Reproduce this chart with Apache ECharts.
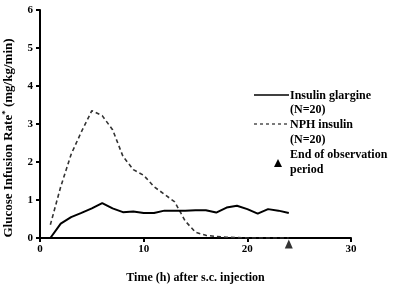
<!DOCTYPE html>
<html>
<head>
<meta charset="utf-8">
<script src="https://cdn.jsdelivr.net/npm/echarts@6/dist/echarts.min.js"></script>
<style>
  html, body { margin: 0; padding: 0; background: #fff; }
  #chart { width: 400px; height: 288px; }
</style>
</head>
<body>
<div id="chart"></div>
<script>
// hours after injection
var hours = [1, 2, 3, 4, 5, 6, 7, 8, 9, 10, 11, 12, 13, 14, 15, 16, 17, 18, 19, 20, 21, 22, 23, 24];
// glucose infusion rate, mg/kg/min
var glargine = [0, 0.38, 0.55, 0.66, 0.78, 0.92, 0.78, 0.68, 0.70, 0.66, 0.66, 0.72, 0.72, 0.72, 0.73, 0.73, 0.67, 0.80, 0.85, 0.76, 0.64, 0.76, 0.72, 0.66];
var nph = [0.35, 1.35, 2.2, 2.8, 3.35, 3.22, 2.85, 2.15, 1.8, 1.65, 1.35, 1.15, 0.95, 0.45, 0.15, 0.07, 0.04, 0.02, 0.01, 0, 0, 0, 0, 0];
var endObs = [[24, 0]];

var serif = '"Liberation Serif", "DejaVu Serif", serif';

function pairs(xs, ys) {
  return xs.map(function (x, i) { return [x, ys[i]]; });
}

var chart = echarts.init(document.getElementById('chart'));
var lblStyle = { fontFamily: serif, fontWeight: 'bold', fontSize: 11, color: '#000' };

chart.setOption({
  animation: false,
  backgroundColor: '#fff',
  grid: { left: 40, right: 49, top: 10, bottom: 50, containLabel: false, outerBoundsMode: 'none' },
  xAxis: {
    type: 'value',
    min: 0, max: 30, interval: 10,
    name: 'Time (h) after s.c. injection',
    nameLocation: 'middle',
    nameGap: 34,
    nameTextStyle: { fontFamily: serif, fontWeight: 'bold', fontSize: 12, color: '#000' },
    axisLine: { lineStyle: { color: '#000', width: 2 } },
    axisTick: { length: 4, lineStyle: { color: '#000', width: 2 } },
    axisLabel: Object.assign({ margin: 6 }, lblStyle),
    splitLine: { show: false }
  },
  yAxis: {
    type: 'value',
    min: 0, max: 6, interval: 1,
    name: '{a|Glucose Infusion Rate}{s|*}{a| (mg/kg/min)}',
    nameLocation: 'middle',
    nameGap: 23,
    nameRotate: 90,
    nameTextStyle: {
      padding: [0, 28, 0, 0],
      rich: {
        a: { fontFamily: serif, fontWeight: 'bold', fontSize: 13, color: '#000' },
        s: { fontFamily: serif, fontWeight: 'bold', fontSize: 9, color: '#000', verticalAlign: 'top', padding: [0, 0, 7, 0] }
      }
    },
    axisLine: { show: true, lineStyle: { color: '#000', width: 2 } },
    axisTick: { show: true, length: 4, lineStyle: { color: '#000', width: 2 } },
    axisLabel: Object.assign({ margin: 7 }, lblStyle),
    splitLine: { show: false }
  },
  series: [
    {
      name: 'Insulin glargine',
      type: 'line',
      data: pairs(hours, glargine),
      symbol: 'none',
      lineStyle: { color: '#000', width: 2 },
      z: 3
    },
    {
      name: 'NPH insulin',
      type: 'line',
      data: pairs(hours, nph),
      symbol: 'none',
      lineStyle: { color: '#333', width: 1.6, type: [4, 3] },
      z: 2
    },
    {
      name: 'End of observation period',
      type: 'scatter',
      data: endObs,
      symbol: 'triangle',
      symbolSize: [8, 9],
      symbolOffset: [0, 6],
      itemStyle: { color: '#000' },
      clip: false,
      z: 4
    }
  ],
  graphic: [
    { type: 'line', shape: { x1: 254, y1: 95, x2: 289, y2: 95 }, style: { stroke: '#000', lineWidth: 1.5 } },
    { type: 'line', shape: { x1: 254, y1: 124, x2: 289, y2: 124 }, style: { stroke: '#333', lineWidth: 1.3, lineDash: [3, 3] } },
    { type: 'polygon', shape: { points: [[278, 159], [274, 167], [282, 167]] }, style: { fill: '#000' } },
    { type: 'text', left: 290, top: 88, style: { text: 'Insulin glargine\n(N=20)\nNPH insulin\n(N=20)\nEnd of observation\nperiod', font: 'bold 12px ' + serif, fill: '#000', lineHeight: 14.9 } }
  ]
});
</script>
</body>
</html>
